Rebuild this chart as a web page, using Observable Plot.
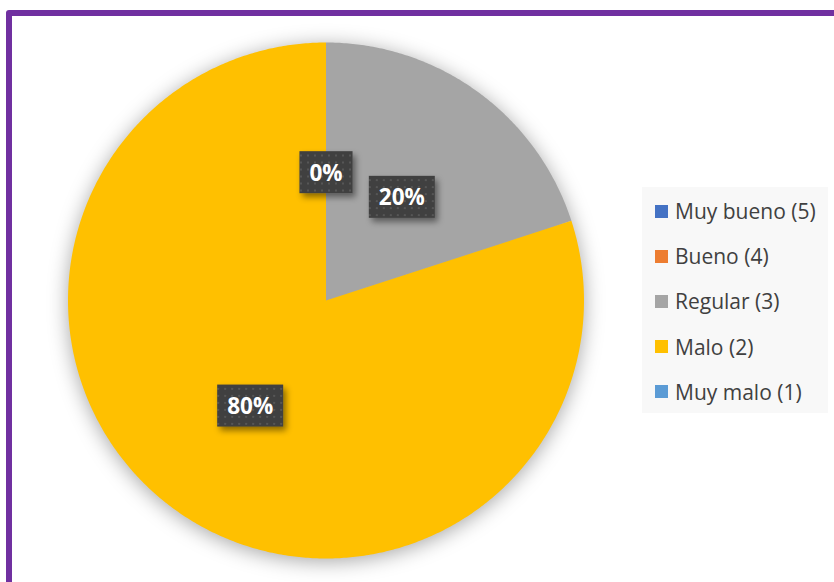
<!DOCTYPE html>
<html>
<head>
<meta charset="utf-8">
<script src="https://cdn.jsdelivr.net/npm/d3@7"></script>
<script src="https://cdn.jsdelivr.net/npm/@observablehq/plot@0.6"></script>
<style>
  html, body { margin: 0; padding: 0; background: #fff; }
  #wrap { position: relative; width: 834px; height: 582px; overflow: hidden; background: #fff; }
  #frame { position: absolute; left: 6px; top: 10px; width: 900px; height: 700px;
           border: 6px solid #7030A0; border-radius: 3px; box-sizing: border-box; }
  #chart { position: absolute; left: 0; top: 0; }
  #legend { position: absolute; left: 642px; top: 187px; width: 186px; height: 226px; background: #f8f8f8;
            font-family: "Open Sans", sans-serif; font-size: 21px; color: #404040; }
  .item { position: absolute; left: 13px; height: 20px; display: flex; align-items: center; white-space: nowrap; }
  .sw { width: 13px; height: 13px; margin-right: 7px; flex: none; }
  g[aria-label="line"] { filter: drop-shadow(0px 3px 10px rgba(0,0,0,0.35)); }
</style>
</head>
<body>
<div id="wrap">
  <div id="frame"></div>
  <div id="chart"></div>
  <div id="legend"></div>
</div>
<script>
const categories = ["Muy bueno (5)", "Bueno (4)", "Regular (3)", "Malo (2)", "Muy malo (1)"];
const values = [0, 0, 20, 80, 0];
const palette = ["#4472C4", "#ED7D31", "#A5A5A5", "#FFC000", "#5B9BD5"];
const shownLabels = ["Muy bueno (5)", "Regular (3)", "Malo (2)"];

const data = categories.map((c, i) => ({cat: c, value: values[i]}));
const total = d3.sum(values);
const arcs = d3.pie().sort(null).value(d => d.value)(data);

// slice outlines in unit-radius coordinates (angle 0 at 12 o'clock, clockwise)
const pts = [];
arcs.forEach(a => {
  if (a.endAngle - a.startAngle <= 0) return;
  pts.push({cat: a.data.cat, x: 0, y: 0});
  const n = Math.max(2, Math.ceil((a.endAngle - a.startAngle) / (Math.PI / 360)));
  for (let k = 0; k <= n; k++) {
    const t = a.startAngle + (a.endAngle - a.startAngle) * k / n;
    pts.push({cat: a.data.cat, x: Math.sin(t), y: Math.cos(t)});
  }
});

const labels = arcs.filter(a => shownLabels.includes(a.data.cat)).map(a => {
  const m = (a.startAngle + a.endAngle) / 2;
  return {cat: a.data.cat, x: 0.5 * Math.sin(m), y: 0.5 * Math.cos(m),
          text: Math.round(100 * a.data.value / total) + "%"};
});

const plot = Plot.plot({
  width: 834, height: 582,
  margin: 0,
  x: {domain: [-1, 1], range: [67.5, 583.5], axis: null},
  y: {domain: [-1, 1], range: [558, 42], axis: null},
  color: {type: "ordinal", domain: categories, range: palette},
  style: {background: "transparent", overflow: "visible"},
  marks: [
    Plot.line(pts, {x: "x", y: "y", z: "cat", fill: "cat", stroke: "none", curve: "linear-closed"}),
    Plot.text(labels, {x: "x", y: "y", text: "text", fill: "white", fontSize: 22.5, fontWeight: "bold",
                       fontFamily: "Open Sans", dy: 2})
  ]
});
document.getElementById("chart").appendChild(plot);

// label boxes with dotted dark pattern and shadow
const ns = "http://www.w3.org/2000/svg";
const svg = d3.select(plot);
const defs = svg.insert("defs", ":first-child");
const pat = defs.append("pattern").attr("id", "dots").attr("patternUnits", "userSpaceOnUse")
  .attr("width", 7).attr("height", 7);
pat.append("rect").attr("width", 7).attr("height", 7).attr("fill", "#404040");
pat.append("rect").attr("x", 2).attr("y", 2).attr("width", 2).attr("height", 2).attr("fill", "#565656");
const flt = defs.append("filter").attr("id", "sh").attr("x", "-30%").attr("y", "-30%").attr("width", "180%").attr("height", "180%");
flt.append("feDropShadow").attr("dx", 3).attr("dy", 4).attr("stdDeviation", 3).attr("flood-color", "#000").attr("flood-opacity", 0.45);

svg.selectAll('g[aria-label="text"] text').each(function() {
  const b = this.getBBox();
  const w = b.width + 20, h = 42;
  const cx = b.x + b.width / 2, cy = b.y + b.height / 2;
  const r = document.createElementNS(ns, "rect");
  r.setAttribute("x", cx - w / 2);
  r.setAttribute("y", cy - h / 2);
  r.setAttribute("width", w);
  r.setAttribute("height", h);
  r.setAttribute("fill", "url(#dots)");
  r.setAttribute("filter", "url(#sh)");
  const tr = this.getAttribute("transform");
  if (tr) r.setAttribute("transform", tr);
  this.parentNode.insertBefore(r, this);
});

// legend
const legend = d3.select("#legend");
categories.forEach((c, i) => {
  const it = legend.append("div").attr("class", "item").style("top", (14 + i * 45.2) + "px");
  it.append("div").attr("class", "sw").style("background", palette[i]);
  it.append("span").text(c);
});
</script>
</body>
</html>
